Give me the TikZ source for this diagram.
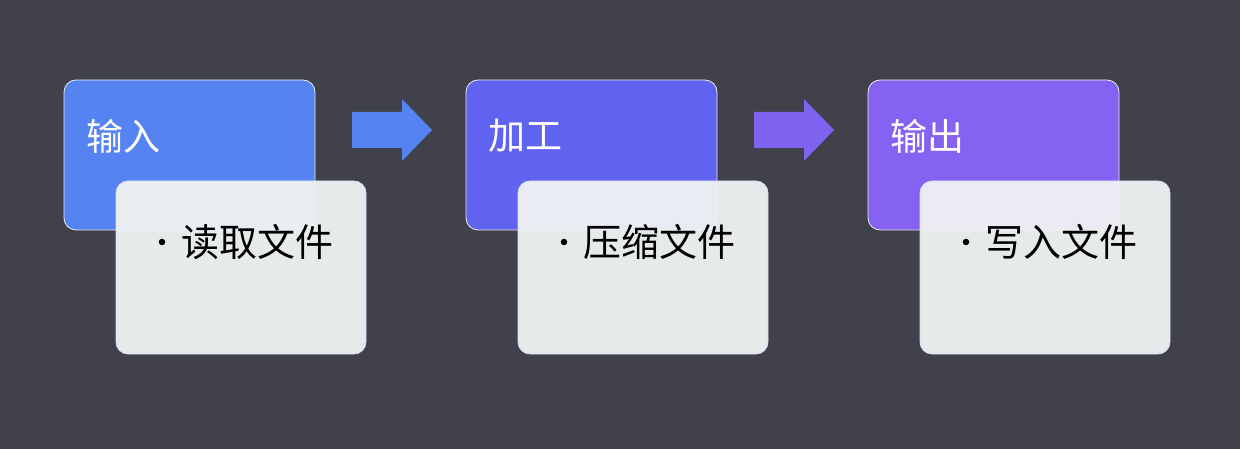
\documentclass[tikz,border=0pt]{standalone}
\usepackage{fontspec}
\newfontfamily\cjk{Noto Sans CJK SC}
\definecolor{bg}{HTML}{40414B}
\definecolor{cA}{HTML}{5683F2}
\definecolor{cB}{HTML}{5F63F0}
\definecolor{cC}{HTML}{8562F2}
\definecolor{cArB}{HTML}{7D63EF}
\definecolor{card}{HTML}{F1F4F4}
\definecolor{cardline}{HTML}{D8D8F8}
\begin{document}
\begin{tikzpicture}[x=1pt,y=-1pt,
  topbox/.style={draw=white!85!gray, line width=0.8pt, rounded corners=12pt},
  subbox/.style={draw=cardline, line width=0.8pt, rounded corners=12pt, fill=card, fill opacity=0.95},
  title/.style={anchor=west, text=white, font=\cjk\fontsize{37}{40}\selectfont, inner sep=0pt},
  item/.style={anchor=west, text=black, font=\cjk\fontsize{38}{40}\selectfont, inner sep=0pt},
  bul/.style={circle, fill=black, inner sep=0pt, minimum size=6.5pt}]
\fill[bg] (0,0) rectangle (1240,449);
\useasboundingbox (0,0) rectangle (1240,449);
\foreach \dx/\col/\t/\i/\n in {0/cA/输入/读取文件/a, 402/cB/加工/压缩文件/b, 804/cC/输出/写入文件/c}{
  \draw[topbox, fill=\col] (64+\dx,80) rectangle (315+\dx,230);
  \node[title] (t\n) at (86+\dx,136) {\t};
  \draw[subbox] (116+\dx,181) rectangle (366+\dx,354);
  \node[bul] (b\n) at (162+\dx,242) {};
  \node[item] (i\n) at (181+\dx,242) {\i};
}
\fill[cA] (352,112) -- (402,112) -- (402,99) -- (432,130) -- (402,161) -- (402,148) -- (352,148) -- cycle;
\fill[cArB] (754,112) -- (804,112) -- (804,99) -- (834,130) -- (804,161) -- (804,148) -- (754,148) -- cycle;
\end{tikzpicture}
\end{document}
